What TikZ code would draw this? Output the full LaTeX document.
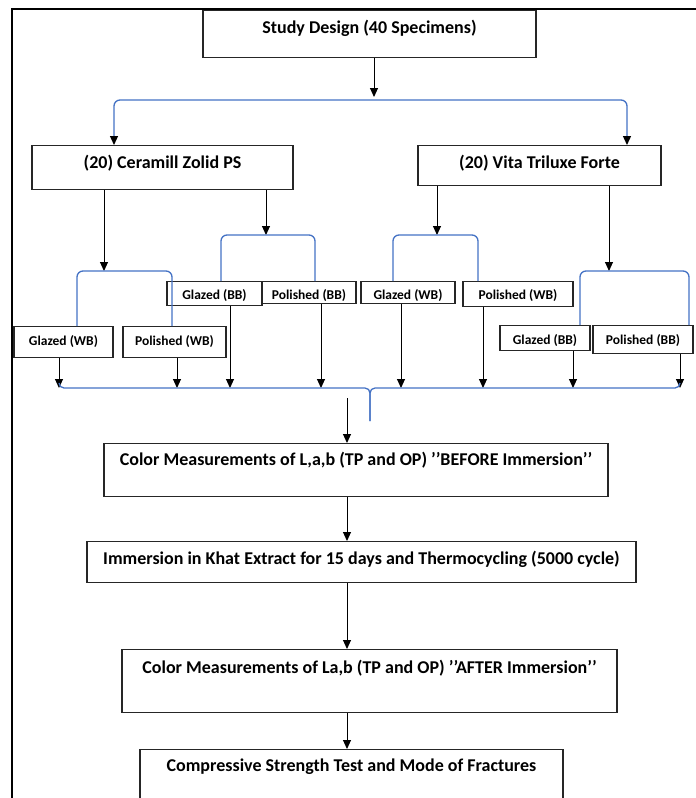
\documentclass[tikz,border=0pt]{standalone}
\usepackage{fontspec}
\setmainfont{Carlito}
\usetikzlibrary{arrows.meta}
\definecolor{bracketblue}{RGB}{68,114,196}
\definecolor{boxline}{RGB}{38,38,38}

\tikzset{
  stage/.style={draw=boxline, line width=1.4pt, inner sep=0pt, anchor=north,
    font=\bfseries\fontsize{18}{21}\selectfont},
  group/.style={stage, font=\bfseries\fontsize{13.5}{16}\selectfont},
  flow/.style={-{Triangle[length=9pt,width=8pt]}, line width=1pt},
  bracket/.style={draw=bracketblue, line width=1.3pt, rounded corners=6pt},
  splitarrow/.style={bracket, {Triangle[color=black,length=9pt,width=8pt]}-{Triangle[color=black,length=9pt,width=8pt]}},
}

\begin{document}
\begin{tikzpicture}[x=1pt, y=-1pt]
  \useasboundingbox (0,0) rectangle (696,798);

  % Rahmen
  \draw[line width=2pt] (696,9) -- (12,9) -- (12,800);

  % Studiendesign und Materialien
  \node[stage, minimum width=333pt, text height=23pt, text depth=24pt] (study) at (369.5,10) {Study Design (40 Specimens)};
  \node[stage, minimum width=261pt, text height=23pt, text depth=21pt] (cer) at (162.5,145) {(20) Ceramill Zolid PS};
  \node[stage, minimum width=243pt, text height=23pt, text depth=17pt] (vita) at (539.5,145) {(20) Vita Triluxe Forte};

  \coordinate (split) at (374,100);
  \draw[flow] ([xshift=4.5pt]study.south) -- ([yshift=3pt]split);
  \draw[splitarrow] ([xshift=-48.5pt]cer.north) |- (split) -| ([xshift=87.5pt]vita.north);

  % Oberflaechengruppen
  \node[group, minimum width=99pt, text height=19pt, text depth=12pt] (gwbL) at (63.5,326) {Glazed (WB)};
  \node[group, minimum width=103pt, text height=19pt, text depth=12pt] (pwbL) at (174.5,326) {Polished (WB)};
  \node[group, minimum width=95pt, text height=17.5pt, text depth=6.5pt] (gbbL) at (214.5,281) {Glazed (BB)};
  \node[group, minimum width=94pt, text height=17.5pt, text depth=4.5pt] (pbbL) at (309,281) {Polished (BB)};
  \node[group, minimum width=94pt, text height=17.5pt, text depth=4.5pt] (gwbR) at (408,281) {Glazed (WB)};
  \node[group, minimum width=110pt, text height=17.5pt, text depth=7.5pt] (pwbR) at (518,281) {Polished (WB)};
  \node[group, minimum width=90pt, text height=18.5pt, text depth=6.5pt] (gbbR) at (545,325) {Glazed (BB)};
  \node[group, minimum width=100pt, text height=18.5pt, text depth=9.5pt] (pbbR) at (643,325) {Polished (BB)};

  \coordinate (jA) at (104,271);
  \coordinate (jB) at (266,235);
  \coordinate (jC) at (437,235);
  \coordinate (jD) at (609,271);
  \draw[flow] ([xshift=-58.5pt]cer.south) -- (jA);
  \draw[flow] ([xshift=103.5pt]cer.south) -- (jB);
  \draw[flow] ([xshift=-102.5pt]vita.south) -- (jC);
  \draw[flow] ([xshift=69.5pt]vita.south) -- (jD);
  \draw[bracket] ([xshift=13.5pt]gwbL.north) |- (jA) -| ([xshift=-2.5pt]pwbL.north);
  \draw[bracket] ([xshift=6.5pt]gbbL.north) |- (jB) -| ([xshift=6pt]pbbL.north);
  \draw[bracket] ([xshift=-15pt]gwbR.north) |- (jC) -| ([xshift=-40pt]pwbR.north);
  \draw[bracket] ([xshift=35pt]gbbR.north) |- (jD) -| ([xshift=46pt]pbbR.north);

  % Sammelklammer
  \coordinate (bus) at (370,388);
  \coordinate (busL) at (59,383);
  \coordinate (busR) at (680,383);
  \coordinate (busTip) at (370,421);
  \foreach \n/\dx in {gwbL/-4.5, pwbL/2.5, gbbL/15.5, pbbL/12, gwbR/-7, pwbR/-35, gbbR/28, pbbR/37}
    \draw[flow] ([xshift=\dx pt]\n.south) coordinate (s) -- (s |- bus);
  \draw[bracket, rounded corners=5pt] (busL) |- (bus) -- (busTip);
  \draw[bracket, rounded corners=5pt] (busR) |- (bus) -- (busTip);

  % Ablauf
  \node[stage, minimum width=504pt, text height=22pt, text depth=31pt] (before) at (356,443) {Color Measurements of L,a,b (TP and OP) ’’BEFORE Immersion’’};
  \node[stage, minimum width=549pt, text height=23pt, text depth=18pt] (immersion) at (361.5,541) {Immersion in Khat Extract for 15 days and Thermocycling (5000 cycle)};
  \node[stage, minimum width=495pt, text height=24pt, text depth=39pt] (after) at (369.5,649) {Color Measurements of La,b (TP and OP) ’’AFTER Immersion’’};
  \node[stage, minimum width=423pt, text height=22pt, text depth=40pt] (test) at (351.5,749) {Compressive Strength Test and Mode of Fractures};

  \coordinate (collect) at (347,398);
  \draw[flow] (collect) -- (collect |- before.north);
  \draw[flow] (before.south -| collect) -- (immersion.north -| collect);
  \draw[flow] (immersion.south -| collect) -- (after.north -| collect);
  \draw[flow] (after.south -| collect) -- (test.north -| collect);
\end{tikzpicture}
\end{document}
